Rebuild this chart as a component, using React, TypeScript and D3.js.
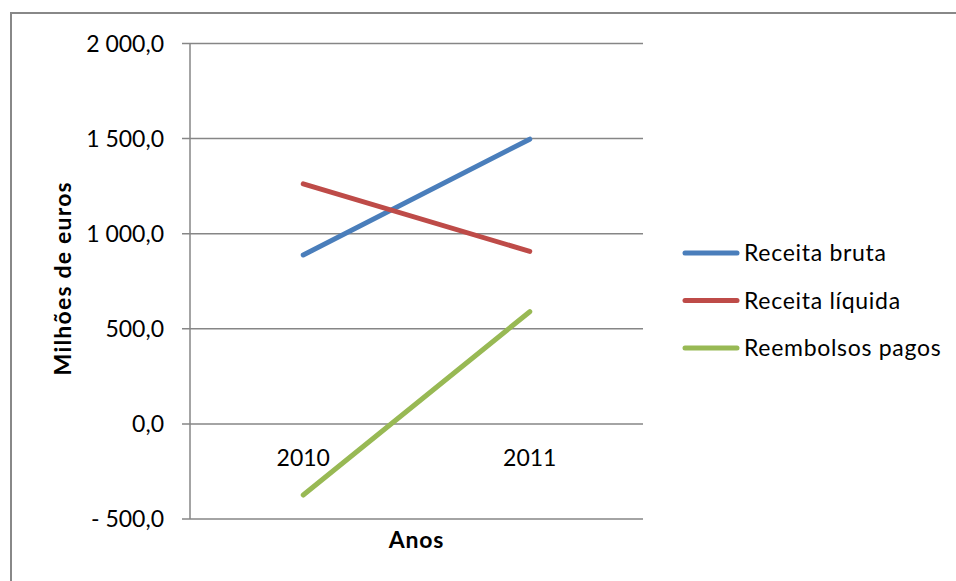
import React from "react";
import * as d3 from "d3";

// Anos e séries (milhões de euros)
const years = ["2010", "2011"];
const receitaBruta = [888, 1497];
const receitaLiquida = [1262, 907];
const reembolsosPagos = [-374, 590];
const seriesNames = ["Receita bruta", "Receita líquida", "Reembolsos pagos"];
const seriesColors = ["#4A7EBB", "#BE4B48", "#98B954"];
const yTicks = [-500, 0, 500, 1000, 1500, 2000];

const W = 956;
const H = 581;
const plot = { left: 190, right: 643, top: 43.5, bottom: 519 };
const font = "Lato, 'Open Sans', sans-serif";

const fmt = (v: number) => {
  const s = d3.format(",.1f")(Math.abs(v)).replace(/,/g, " ").replace(".", ",");
  return v < 0 ? "- " + s : s;
};

export default function App() {
  const x = d3.scaleBand<string>().domain(years).range([plot.left, plot.right]).padding(0);
  const y = d3.scaleLinear().domain([-500, 2000]).range([plot.bottom, plot.top]);
  const cx = (c: string) => (x(c) as number) + x.bandwidth() / 2;
  const line = d3
    .line<number>()
    .x((_, i) => cx(years[i]))
    .y((v) => y(v));
  const data = [receitaBruta, receitaLiquida, reembolsosPagos];

  return (
    <svg
      width={W}
      height={H}
      style={{ position: "absolute", left: 0, top: 0, display: "block", background: "#fff" }}
      fontFamily={font}
    >
      {/* moldura do gráfico */}
      <rect x={11} y={13} width={W} height={H} fill="#fff" stroke="#888" strokeWidth={2} />

      {/* grelha horizontal e marcas */}
      {yTicks.map((t) => (
        <g key={t}>
          <line x1={182} x2={plot.right} y1={y(t)} y2={y(t)} stroke="#868686" strokeWidth={1.5} />
          <text x={164} y={y(t)} dy="0.35em" textAnchor="end" fontSize={23} fill="#000">
            {fmt(t)}
          </text>
        </g>
      ))}
      <line x1={plot.left} x2={plot.left} y1={plot.top} y2={plot.bottom} stroke="#868686" strokeWidth={1.5} />

      {/* séries */}
      {data.map((d, i) => (
        <path
          key={i}
          d={line(d) as string}
          fill="none"
          stroke={seriesColors[i]}
          strokeWidth={5}
          strokeLinecap="round"
          strokeLinejoin="round"
        />
      ))}

      {/* rótulos das categorias */}
      {years.map((c) => (
        <text key={c} x={cx(c)} y={466} textAnchor="middle" fontSize={23} fill="#000">
          {c}
        </text>
      ))}

      {/* títulos dos eixos */}
      <text
        x={(plot.left + plot.right) / 2}
        y={548}
        textAnchor="middle"
        fontSize={23}
        fontWeight="bold"
        letterSpacing={0.8}
        fill="#000"
      >
        Anos
      </text>
      <text
        transform={`translate(71, ${(plot.top + plot.bottom) / 2 - 3}) rotate(-90)`}
        textAnchor="middle"
        fontSize={23}
        fontWeight="bold"
        letterSpacing={1.2}
        fill="#000"
      >
        Milhões de euros
      </text>

      {/* legenda */}
      {seriesNames.map((n, i) => {
        const ly = 253 + i * 47.5;
        return (
          <g key={n}>
            <line x1={685} x2={737} y1={ly} y2={ly} stroke={seriesColors[i]} strokeWidth={5} strokeLinecap="round" />
            <text x={744} y={ly} dy="0.35em" fontSize={23} letterSpacing={0.7} fill="#000">
              {n}
            </text>
          </g>
        );
      })}
    </svg>
  );
}
